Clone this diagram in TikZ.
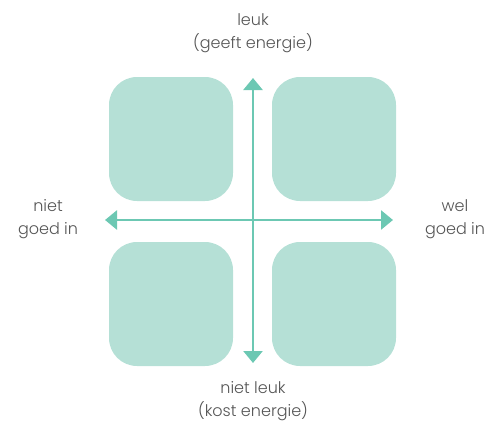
\documentclass[tikz,border=0pt]{standalone}
\usepackage{fontspec}
\setmainfont{Poppins Light}
\usetikzlibrary{arrows.meta}
\definecolor{boxgreen}{HTML}{B5E0D6}
\definecolor{arrowgreen}{HTML}{6CC8B3}
\definecolor{labelgray}{HTML}{555555}
\begin{document}
\begin{tikzpicture}[x=1pt, y=-1pt,
	quad/.style={rectangle, rounded corners=28pt, fill=boxgreen, minimum size=124pt, inner sep=0pt},
	axis/.style={draw=arrowgreen, line width=2.6pt, {Triangle[width=19pt,length=12pt]}-{Triangle[width=19pt,length=12pt]}},
	lbl/.style={text=labelgray, align=center, font=\fontsize{16}{23}\selectfont}]
	\useasboundingbox (0,0) rectangle (495,423);
	\node (tl) at (171,139) [quad] {};
	\node (tr) at (334,139) [quad] {};
	\node (bl) at (171,304) [quad] {};
	\node (br) at (334,304) [quad] {};
	\coordinate (up) at (253,78);
	\coordinate (down) at (253,363);
	\coordinate (west) at (105,220);
	\coordinate (east) at (393,220);
	\draw [axis] (down) -- (up);
	\draw [axis] (west) -- (east);
	\node (fun) at (253,33) [lbl] {leuk\\(geeft energie)};
	\node (nofun) at (253,401) [lbl] {niet leuk\\(kost energie)};
	\node (weak) at (48,219) [lbl] {niet\\goed in};
	\node (strong) at (455,219) [lbl] {wel\\goed in};
\end{tikzpicture}
\end{document}
